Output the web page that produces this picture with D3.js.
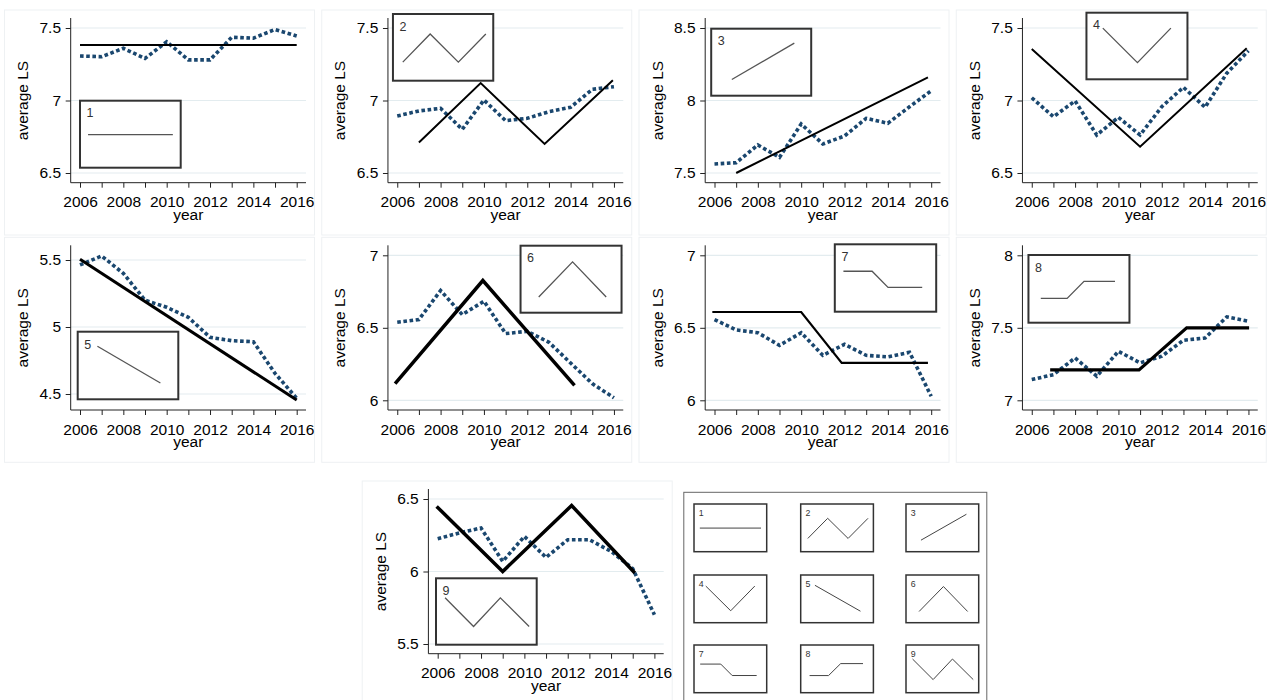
<!DOCTYPE html>
<html><head><meta charset="utf-8">
<script src="https://cdn.jsdelivr.net/npm/d3@7"></script>
<style>
body{margin:0;background:#fff}
svg{display:block}
text{font-family:"Liberation Sans",Arial,sans-serif}
</style>
</head><body>
<svg id="chart" width="1269" height="700"></svg>
<script>
// ---------------- data ----------------
const years = [2006,2007,2008,2009,2010,2011,2012,2013,2014,2015,2016];
const yearLabels = ["2006","","2008","","2010","","2012","","2014","","2016"];

const avg1 = [7.307,7.302,7.36,7.29,7.405,7.28,7.28,7.436,7.43,7.49,7.445];
const avg2 = [6.893,6.928,6.946,6.801,7.003,6.861,6.877,6.923,6.953,7.077,7.095];
const avg3 = [7.562,7.571,7.693,7.608,7.838,7.70,7.755,7.877,7.843,7.957,8.067];
const avg4 = [7.019,6.888,6.997,6.762,6.884,6.762,6.957,7.091,6.953,7.188,7.343];
const avg5 = [5.463,5.53,5.40,5.20,5.147,5.072,4.923,4.898,4.89,4.654,4.468];
const avg6 = [6.538,6.557,6.757,6.591,6.683,6.46,6.476,6.40,6.257,6.115,6.017];
const avg7 = [6.557,6.485,6.466,6.379,6.466,6.31,6.386,6.31,6.30,6.331,6.028];
const avg8 = [7.143,7.177,7.292,7.166,7.338,7.258,7.304,7.414,7.43,7.575,7.545];
const avg9 = [6.226,6.266,6.30,6.07,6.242,6.097,6.219,6.219,6.139,6.02,5.702];

// fitted pattern lines: [year, value]
const fit1 = [[2006,7.383],[2016,7.383]];
const fit2 = [[2007,6.71],[2009.85,7.12],[2012.8,6.70],[2015.95,7.14]];
const fit3 = [[2007,7.50],[2015.85,8.16]];
const fit4 = [[2006,7.355],[2011,6.681],[2015.92,7.36]];
const fit5 = [[2006,5.505],[2016,4.455]];
const fit6 = [[2005.9,6.115],[2009.95,6.826],[2014.18,6.103]];
const fit7 = [[2005.9,6.609],[2010,6.609],[2011.87,6.258],[2015.85,6.258]];
const fit8 = [[2006.85,7.21],[2010.95,7.21],[2013.15,7.50],[2016.03,7.50]];
const fit9 = [[2005.95,6.449],[2009,6.0],[2012.18,6.455],[2015.1,5.99]];

const yTicks1 = [6.5,7,7.5];
const yTicks2 = [6.5,7,7.5];
const yTicks3 = [7.5,8,8.5];
const yTicks4 = [6.5,7,7.5];
const yTicks5 = [4.5,5,5.5];
const yTicks6 = [6,6.5,7];
const yTicks7 = [6,6.5,7];
const yTicks8 = [7,7.5,8];
const yTicks9 = [5.5,6,6.5];

// pattern glyphs, normalised to their box (0..1)
const shape1 = [[0.08,0.505],[0.922,0.505]];
const shape2 = [[0.098,0.722],[0.371,0.30],[0.652,0.722],[0.926,0.30]];
const shape3 = [[0.206,0.758],[0.831,0.215]];
const shape4 = [[0.162,0.232],[0.505,0.75],[0.836,0.232]];
const shape5 = [[0.196,0.216],[0.822,0.759]];
const shape6 = [[0.18,0.765],[0.515,0.242],[0.848,0.765]];
const shape7 = [[0.085,0.40],[0.368,0.40],[0.525,0.64],[0.862,0.64]];
const shape8 = [[0.122,0.641],[0.383,0.641],[0.55,0.39],[0.857,0.39]];
const shape9 = [[0.09,0.294],[0.373,0.725],[0.639,0.294],[0.925,0.725]];
const patternNames = ["1","2","3","4","5","6","7","8","9"];

// ---------------- layout ----------------
const avgs = [avg1,avg2,avg3,avg4,avg5,avg6,avg7,avg8,avg9];
const fits = [fit1,fit2,fit3,fit4,fit5,fit6,fit7,fit8,fit9];
const ticks = [yTicks1,yTicks2,yTicks3,yTicks4,yTicks5,yTicks6,yTicks7,yTicks8,yTicks9];
const shapes = [shape1,shape2,shape3,shape4,shape5,shape6,shape7,shape8,shape9];

const colW = 317.25;
const panelLayout = [
  {ox:0,        oy:0,     yr:[173,28],   fw:2.0, inset:[80,100.7,100.7,67]},
  {ox:colW,     oy:0,     yr:[173,28],   fw:2.0, inset:[75.7,14,100.3,66.7]},
  {ox:colW*2,   oy:0,     yr:[173,28],   fw:2.0, inset:[76.7,28.7,100,67]},
  {ox:colW*3,   oy:0,     yr:[173,28],   fw:2.0, inset:[134.7,12.7,101,66.6]},
  {ox:0,        oy:227.3, yr:[166.7,32.7],fw:3.0, inset:[77.7,104.4,100.6,67.6]},
  {ox:colW,     oy:227.3, yr:[173,28],   fw:3.5, inset:[203.3,18.4,101,67]},
  {ox:colW*2,   oy:227.3, yr:[173,28],   fw:2.2, inset:[200.3,17,101.4,67.4]},
  {ox:colW*3,   oy:227.3, yr:[173,28],   fw:3.2, inset:[76.7,27.7,101,67.7]},
  {ox:357.7,    oy:471,   yr:[173,28],   fw:3.5, inset:[78.3,107.3,100.7,66.4]}
];

const svg = d3.select("#chart");
const FS = 15.5;
const axisX = 70.7, axisY = 182.7, axisTop = 18, axisRight = 306;
const x = d3.scaleLinear().domain([2006,2016]).range([80,296.7]);

function drawGlyph(g, shape, label, bx, by, bw, bh, boxStroke, boxW, lineColor, lineW, fontSize){
  g.append("rect").attr("x",bx).attr("y",by).attr("width",bw).attr("height",bh)
    .attr("fill","#fff").attr("stroke",boxStroke).attr("stroke-width",boxW);
  const sx = d3.scaleLinear().domain([0,1]).range([bx,bx+bw]);
  const sy = d3.scaleLinear().domain([0,1]).range([by,by+bh]);
  g.append("path").datum(shape)
    .attr("d", d3.line().x(d=>sx(d[0])).y(d=>sy(d[1])))
    .attr("fill","none").attr("stroke",lineColor).attr("stroke-width",lineW);
  g.append("text").attr("x",sx(0.065)).attr("y",sy(0.25))
    .attr("font-size",fontSize).attr("fill","#333").text(label);
}

panelLayout.forEach((L,i)=>{
  const g = svg.append("g").attr("transform",`translate(${L.ox},${L.oy})`);
  const t = ticks[i];
  const y = d3.scaleLinear().domain([t[0],t[2]]).range(L.yr);

  // faint graph-region frame
  g.append("rect").attr("x",4.5).attr("y",10).attr("width",310).attr("height",225)
    .attr("fill","none").attr("stroke","#eef1f3").attr("stroke-width",1);

  // gridlines
  g.selectAll(".grid").data(t).enter().append("line")
    .attr("x1",axisX).attr("x2",axisRight)
    .attr("y1",d=>y(d)).attr("y2",d=>y(d))
    .attr("stroke","#e3ecef").attr("stroke-width",1.2);

  // inset glyph box (drawn over gridlines)
  const b = L.inset;
  drawGlyph(g, shapes[i], patternNames[i], b[0], b[1], b[2], b[3], "#333", 2, "#555", 1.3, 12.5);

  // average series (dotted)
  g.append("path").datum(avgs[i].map((v,k)=>[years[k],v]))
    .attr("d", d3.line().x(d=>x(d[0])).y(d=>y(d[1])))
    .attr("fill","none").attr("stroke","#1a476f").attr("stroke-width",3.6)
    .attr("stroke-dasharray","3.6 2.6");

  // fitted pattern line
  g.append("path").datum(fits[i])
    .attr("d", d3.line().x(d=>x(d[0])).y(d=>y(d[1])))
    .attr("fill","none").attr("stroke","#000").attr("stroke-width",L.fw)
    .attr("stroke-linejoin","miter");

  // axes
  const xa = g.append("g").attr("transform",`translate(0,${axisY})`)
    .call(d3.axisBottom(x).tickValues(years).tickSize(5).tickSizeOuter(0)
      .tickFormat((d,k)=>yearLabels[k]));
  xa.select(".domain").remove();
  xa.selectAll("text").attr("y",24.8).attr("dy",null).attr("font-size",FS).attr("fill","#000")
    .attr("font-family","Liberation Sans, Arial, sans-serif");
  xa.selectAll("line").attr("stroke","#222");

  const ya = g.append("g").attr("transform",`translate(${axisX},0)`)
    .call(d3.axisLeft(y).tickValues(t).tickSize(5).tickSizeOuter(0).tickPadding(4.7)
      .tickFormat(d=>String(d)));
  ya.select(".domain").remove();
  ya.selectAll("text").attr("font-size",FS).attr("fill","#000")
    .attr("font-family","Liberation Sans, Arial, sans-serif");
  ya.selectAll("line").attr("stroke","#222");

  g.append("line").attr("x1",axisX).attr("x2",axisRight).attr("y1",axisY).attr("y2",axisY)
    .attr("stroke","#222").attr("stroke-width",1);
  g.append("line").attr("x1",axisX).attr("x2",axisX).attr("y1",axisTop).attr("y2",axisY)
    .attr("stroke","#222").attr("stroke-width",1);

  g.append("text").attr("x",188.3).attr("y",220).attr("text-anchor","middle")
    .attr("font-size",FS).attr("fill","#000").text("year");
  g.append("text").attr("transform",`translate(28,100.5) rotate(-90)`)
    .attr("text-anchor","middle").attr("font-size",FS).attr("fill","#000").text("average LS");
});

// ---------------- key of patterns ----------------
const key = svg.append("g");
key.append("rect").attr("x",683.8).attr("y",492.3).attr("width",303).attr("height",230)
  .attr("fill","#fff").attr("stroke","#666").attr("stroke-width",1);
const keyCols = [694,800.7,906], keyRows = [504,575,645];
shapes.forEach((s,i)=>{
  drawGlyph(key, s, patternNames[i], keyCols[i%3], keyRows[Math.floor(i/3)], 72.7, 47.7,
    "#333", 1.5, "#444", 1, 8.8);
});
</script>
</body></html>
